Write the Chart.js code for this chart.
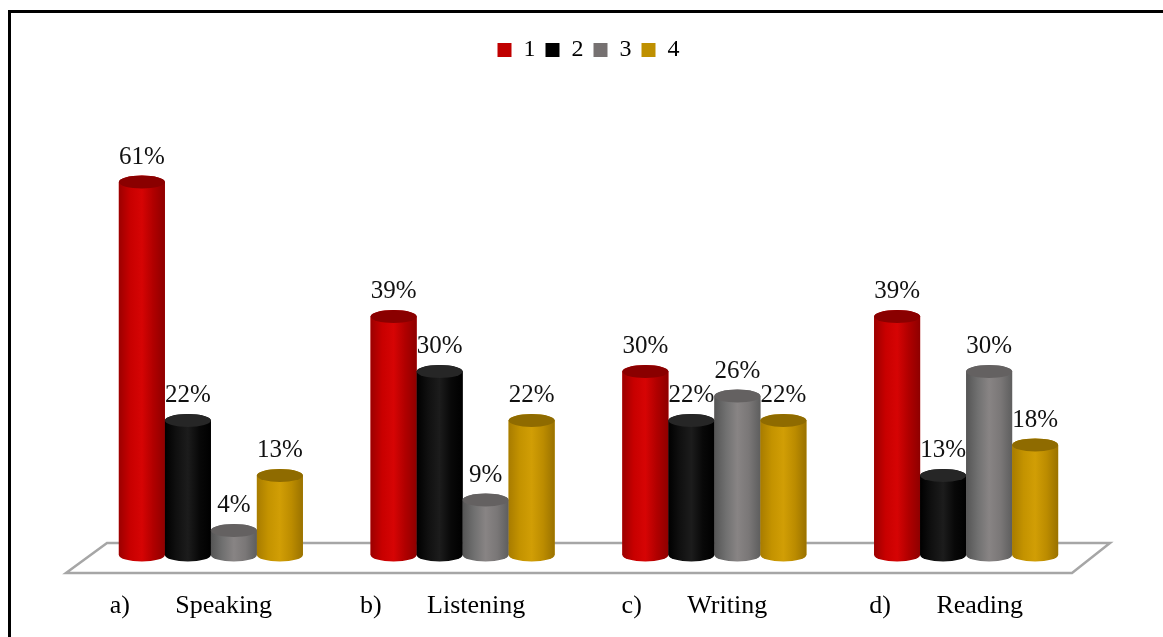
<!DOCTYPE html>
<html>
<head>
<meta charset="utf-8">
<script src="https://cdn.jsdelivr.net/npm/chart.js@4.4.1/dist/chart.umd.min.js"></script>
<style>
  html, body { margin: 0; padding: 0; background: #fff; overflow: hidden; }
  #frame { position: absolute; left: 8px; top: 10px; width: 1200px; height: 700px;
           border-left: 3px solid #000; border-top: 3px solid #000; }
  #box { position: absolute; left: 0; top: 0; width: 1163px; height: 637px; }
</style>
</head>
<body>
<div id="frame"></div>
<div id="box"><canvas id="skills"></canvas></div>
<script>
const categories = ['a)       Speaking', 'b)       Listening', 'c)       Writing', 'd)       Reading'];
const seriesNames = ['1', '2', '3', '4'];
const series1 = [61, 39, 30, 39];
const series2 = [22, 30, 22, 13];
const series3 = [4, 9, 26, 30];
const series4 = [13, 22, 22, 18];

const baseColors = ['#c00000', '#000000', '#767171', '#bf9000'];
// side shading (left -> right) and top cap colour for each cylinder
const shades = [
    { side: ['#9c0000', '#c80000', '#d60404', '#b00000', '#8e0000'], cap: '#8a0000' },
    { side: ['#000000', '#101010', '#1c1c1c', '#080808', '#000000'], cap: '#262626' },
    { side: ['#555555', '#707070', '#888484', '#7a7777', '#5e5e5e'], cap: '#646161' },
    { side: ['#a87c00', '#c49300', '#d19e05', '#bc8c00', '#9a7200'], cap: '#8f6b00' }
];

function drawCylinder(ctx, bar, shade) {
    const rx = bar.width / 2, ry = 6.5;
    const left = bar.x - rx, right = bar.x + rx;
    const top = bar.y, base = bar.base;
    const grad = ctx.createLinearGradient(left, 0, right, 0);
    shade.side.forEach((c, k) => grad.addColorStop(k / (shade.side.length - 1), c));

    ctx.beginPath();
    ctx.moveTo(left, top);
    ctx.lineTo(left, base);
    ctx.ellipse(bar.x, base, rx, ry, 0, Math.PI, 0, true);
    ctx.lineTo(right, top);
    ctx.ellipse(bar.x, top, rx, ry, 0, 0, Math.PI, true);
    ctx.closePath();
    ctx.fillStyle = grad;
    ctx.fill();

    ctx.beginPath();
    ctx.ellipse(bar.x, top, rx, ry, 0, 0, Math.PI * 2);
    ctx.fillStyle = shade.cap;
    ctx.fill();
}

const cylinders = {
    id: 'cylinders',
    beforeDatasetsDraw(chart) {
        // floor of the plot
        const ctx = chart.ctx, area = chart.chartArea;
        const base = chart.scales.y.getPixelForValue(0);
        ctx.save();
        ctx.beginPath();
        ctx.moveTo(area.left + 22, base - 12);
        ctx.lineTo(area.right + 18, base - 12);
        ctx.lineTo(area.right - 20, base + 18);
        ctx.lineTo(area.left - 19, base + 18);
        ctx.closePath();
        ctx.strokeStyle = '#a6a6a6';
        ctx.lineWidth = 2.5;
        ctx.stroke();
        ctx.restore();
    },
    afterDatasetsDraw(chart) {
        const ctx = chart.ctx;
        ctx.save();
        for (let i = 0; i < categories.length; i++) {
            chart.data.datasets.forEach((ds, d) => {
                drawCylinder(ctx, chart.getDatasetMeta(d).data[i], shades[d]);
            });
        }
        ctx.font = '25px "Liberation Serif"';
        ctx.fillStyle = '#111';
        ctx.textAlign = 'center';
        ctx.textBaseline = 'middle';
        chart.data.datasets.forEach((ds, d) => {
            chart.getDatasetMeta(d).data.forEach((bar, i) => {
                ctx.fillText(ds.data[i] + '%', bar.x, bar.y - 25);
            });
        });
        ctx.restore();
    }
};

const allSeries = [series1, series2, series3, series4];

new Chart(document.getElementById('skills'), {
    type: 'bar',
    data: {
        labels: categories,
        datasets: allSeries.map((values, d) => ({
            label: seriesNames[d],
            data: values,
            backgroundColor: baseColors[d],
            borderWidth: 0,
            barPercentage: 1.0,
            categoryPercentage: 0.731
        }))
    },
    options: {
        responsive: true,
        maintainAspectRatio: false,
        animation: false,
        layout: { padding: { left: 85, right: 71, top: 28, bottom: 0 } },
        plugins: {
            legend: {
                position: 'top',
                labels: {
                    boxWidth: 14,
                    boxHeight: 14,
                    padding: 10,
                    color: '#000',
                    font: { family: 'Liberation Serif', size: 24 }
                }
            },
            tooltip: { enabled: false }
        },
        scales: {
            x: {
                grid: { display: false, drawTicks: false },
                border: { display: false },
                afterFit(scale) { scale.height = 82; },
                ticks: {
                    color: '#000',
                    padding: 36,
                    labelOffset: -20,
                    autoSkip: false,
                    maxRotation: 0,
                    font: { family: 'Liberation Serif', size: 26 }
                }
            },
            y: { display: false, min: 0, max: 79 }
        }
    },
    plugins: [cylinders]
});
</script>
</body>
</html>
